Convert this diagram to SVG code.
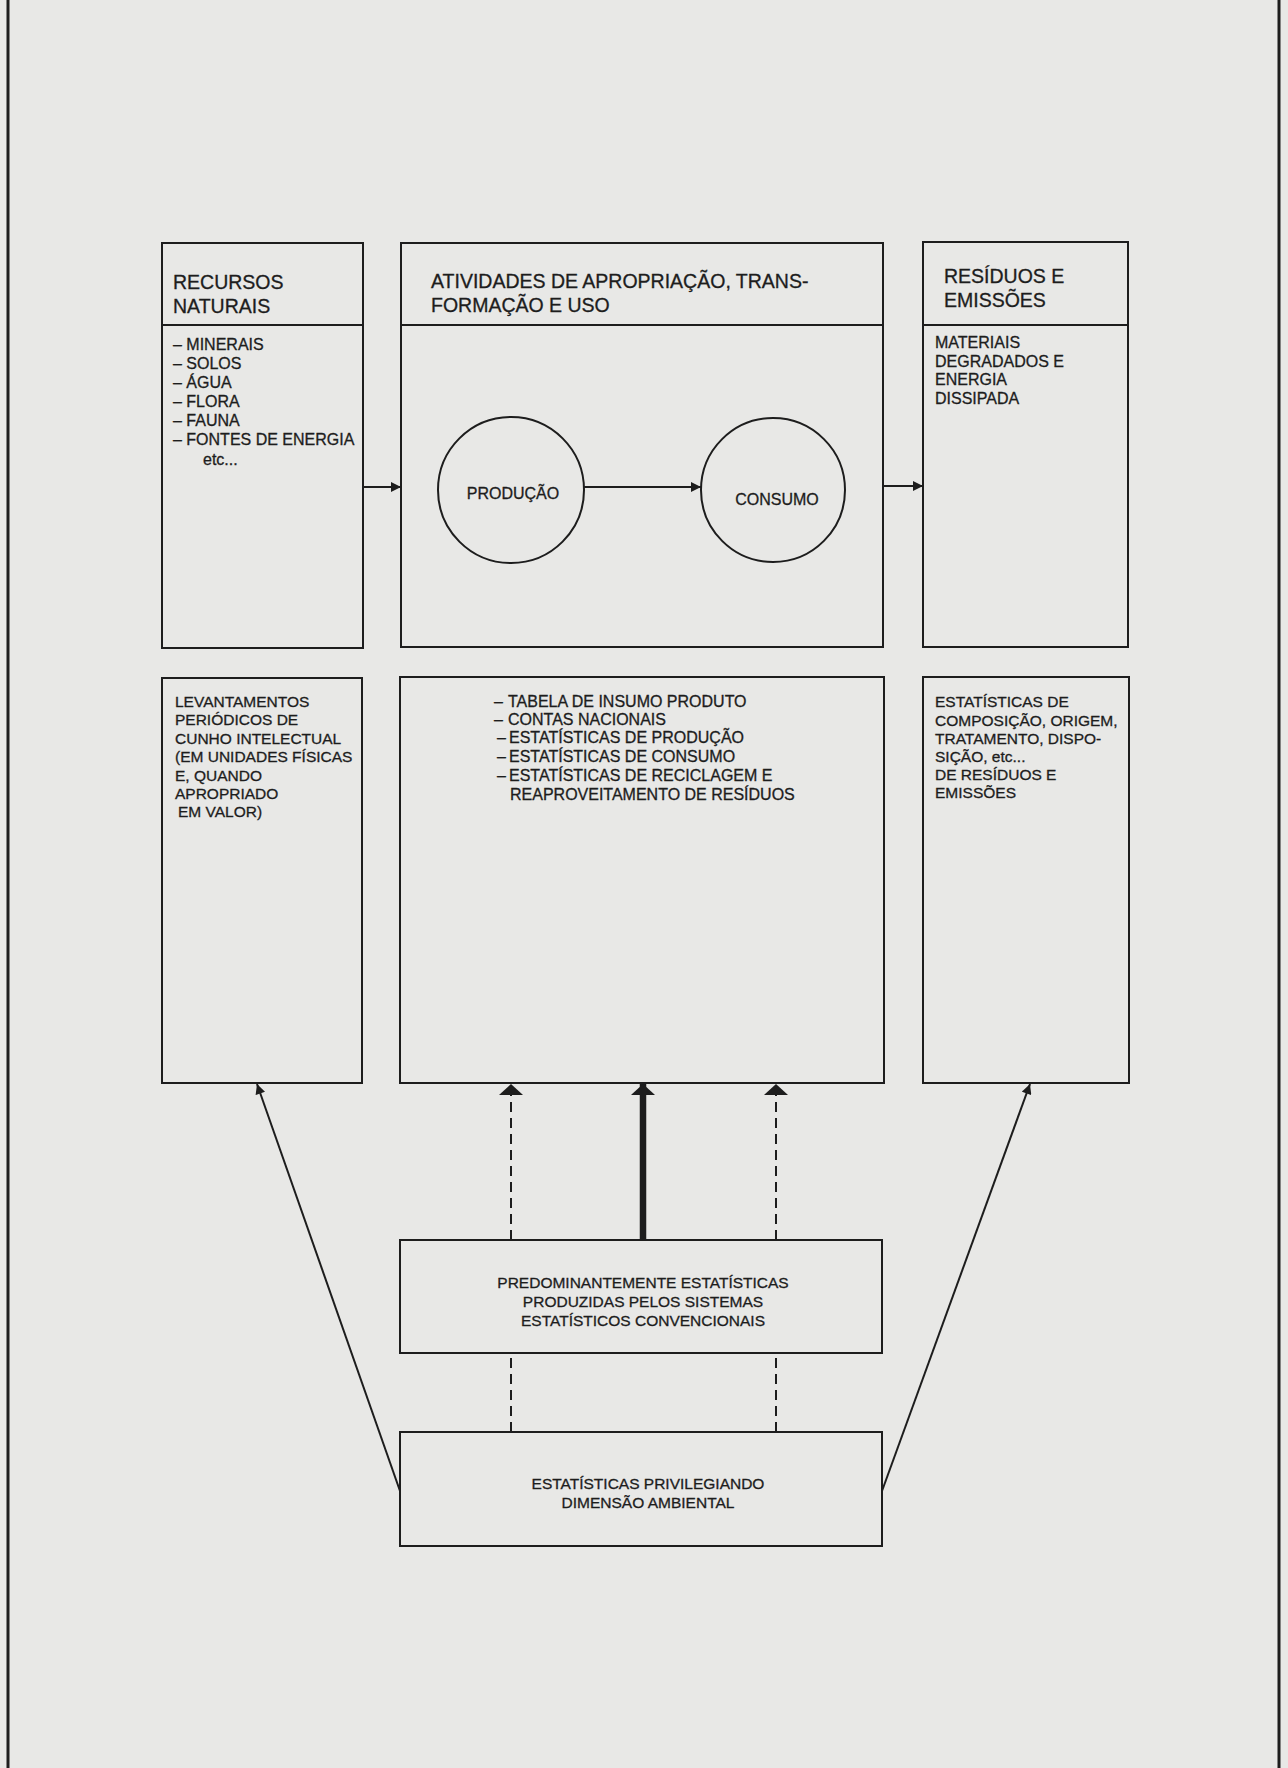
<svg xmlns="http://www.w3.org/2000/svg" width="1288" height="1768" viewBox="0 0 1288 1768">
<style>
  .bg{fill:#e8e8e6}
  .box{fill:none;stroke:#1d1d1d;stroke-width:2}
  .frame{fill:none;stroke:#1d1d1d;stroke-width:3}
  .t{font-family:"Liberation Sans",Arial,Helvetica,sans-serif;fill:#1d1d1d;stroke:#1d1d1d;stroke-width:0.3}
  .h{font-size:19.5px}
  .s{font-size:16px}
  .m{font-size:15.5px}
  .c{text-anchor:middle}
  .conn{stroke:#1d1d1d;stroke-width:2;fill:none}
  .thick{stroke-width:6.5}
  .dash{stroke-dasharray:10 6}
</style>
<defs>
  <marker id="arr" viewBox="0 0 10 10" markerUnits="userSpaceOnUse" markerWidth="11" markerHeight="10" refX="10" refY="5" orient="auto">
    <path d="M0,0 L10,5 L0,10 z" fill="#1d1d1d"/>
  </marker>
  <marker id="arrBig" viewBox="0 0 11 24" markerUnits="userSpaceOnUse" markerWidth="11" markerHeight="24" refX="11" refY="12" orient="auto">
    <path d="M0,0 L11,12 L0,24 z" fill="#1d1d1d"/>
  </marker>
</defs>
<rect class="bg" x="0" y="0" width="1288" height="1768"/>
<rect class="frame" x="8" y="-10" width="1271" height="1790"/>

<g id="recursos-naturais">
  <rect class="box" x="162" y="243" width="201" height="405"/>
  <line class="box" x1="162" y1="325" x2="363" y2="325"/>
  <text class="t h" x="173" y="289">RECURSOS</text>
  <text class="t h" x="173" y="313">NATURAIS</text>
  <g class="t s">
    <text x="173" y="350">– MINERAIS</text>
    <text x="173" y="369">– SOLOS</text>
    <text x="173" y="388">– ÁGUA</text>
    <text x="173" y="407">– FLORA</text>
    <text x="173" y="426">– FAUNA</text>
    <text x="173" y="445">– FONTES DE ENERGIA</text>
    <text x="203" y="465">etc...</text>
  </g>
</g>

<g id="atividades">
  <rect class="box" x="401" y="243" width="482" height="404"/>
  <line class="box" x1="401" y1="325" x2="883" y2="325"/>
  <text class="t h" x="431" y="288">ATIVIDADES DE APROPRIAÇÃO, TRANS-</text>
  <text class="t h" x="431" y="312">FORMAÇÃO E USO</text>
</g>

<g id="producao">
  <circle class="box" cx="511" cy="490" r="73"/>
  <text class="t s c" x="513" y="499">PRODUÇÃO</text>
</g>

<g id="consumo">
  <circle class="box" cx="773" cy="490" r="72"/>
  <text class="t s c" x="777" y="505">CONSUMO</text>
</g>

<g id="residuos">
  <rect class="box" x="923" y="242" width="205" height="405"/>
  <line class="box" x1="923" y1="325" x2="1128" y2="325"/>
  <text class="t h" x="944" y="283">RESÍDUOS E</text>
  <text class="t h" x="944" y="307">EMISSÕES</text>
  <g class="t s">
    <text x="935" y="348">MATERIAIS</text>
    <text x="935" y="367">DEGRADADOS E</text>
    <text x="935" y="385">ENERGIA</text>
    <text x="935" y="404">DISSIPADA</text>
  </g>
</g>

<g id="levantamentos">
  <rect class="box" x="162" y="678" width="200" height="405"/>
  <g class="t m">
    <text x="175" y="707">LEVANTAMENTOS</text>
    <text x="175" y="725">PERIÓDICOS DE</text>
    <text x="175" y="744">CUNHO INTELECTUAL</text>
    <text x="175" y="762">(EM UNIDADES FÍSICAS</text>
    <text x="175" y="781">E, QUANDO</text>
    <text x="175" y="799">APROPRIADO</text>
    <text x="178" y="817">EM VALOR)</text>
  </g>
</g>

<g id="estatisticas-economicas">
  <rect class="box" x="400" y="677" width="484" height="406"/>
  <g class="t s">
    <text x="494" y="707">–</text><text x="508" y="707">TABELA DE INSUMO PRODUTO</text>
    <text x="494" y="725">–</text><text x="508" y="725">CONTAS NACIONAIS</text>
    <text x="497" y="743">–</text><text x="509" y="743">ESTATÍSTICAS DE PRODUÇÃO</text>
    <text x="497" y="762">–</text><text x="509" y="762">ESTATÍSTICAS DE CONSUMO</text>
    <text x="497" y="781">–</text><text x="509" y="781">ESTATÍSTICAS DE RECICLAGEM E</text>
    <text x="510" y="800">REAPROVEITAMENTO DE RESÍDUOS</text>
  </g>
</g>

<g id="estatisticas-residuos">
  <rect class="box" x="923" y="677" width="206" height="406"/>
  <g class="t m">
    <text x="935" y="707">ESTATÍSTICAS DE</text>
    <text x="935" y="726">COMPOSIÇÃO, ORIGEM,</text>
    <text x="935" y="744">TRATAMENTO, DISPO-</text>
    <text x="935" y="762">SIÇÃO, etc...</text>
    <text x="935" y="780">DE RESÍDUOS E</text>
    <text x="935" y="798">EMISSÕES</text>
  </g>
</g>

<g id="predominantemente">
  <rect class="box" x="400" y="1240" width="482" height="113"/>
  <g class="t m c">
    <text x="643" y="1288">PREDOMINANTEMENTE ESTATÍSTICAS</text>
    <text x="643" y="1307">PRODUZIDAS PELOS SISTEMAS</text>
    <text x="643" y="1326">ESTATÍSTICOS CONVENCIONAIS</text>
  </g>
</g>

<g id="privilegiando">
  <rect class="box" x="400" y="1432" width="482" height="114"/>
  <g class="t m c">
    <text x="648" y="1489">ESTATÍSTICAS PRIVILEGIANDO</text>
    <text x="648" y="1508">DIMENSÃO AMBIENTAL</text>
  </g>
</g>

<g id="connectors">
  <line class="conn" x1="363" y1="487" x2="401" y2="487" marker-end="url(#arr)"/>
  <line class="conn" x1="584" y1="487" x2="701" y2="487" marker-end="url(#arr)"/>
  <line class="conn" x1="883" y1="486" x2="923" y2="486" marker-end="url(#arr)"/>
  <line class="conn dash" x1="511" y1="1240" x2="511" y2="1084" marker-end="url(#arrBig)"/>
  <line class="conn thick" x1="643" y1="1240" x2="643" y2="1084" marker-end="url(#arrBig)"/>
  <line class="conn dash" x1="776" y1="1240" x2="776" y2="1084" marker-end="url(#arrBig)"/>
  <line class="conn dash" x1="511" y1="1432" x2="511" y2="1353"/>
  <line class="conn dash" x1="776" y1="1432" x2="776" y2="1353"/>
  <line class="conn" x1="400" y1="1491" x2="257" y2="1084" marker-end="url(#arr)"/>
  <line class="conn" x1="882" y1="1491" x2="1030" y2="1084" marker-end="url(#arr)"/>
</g>
</svg>
